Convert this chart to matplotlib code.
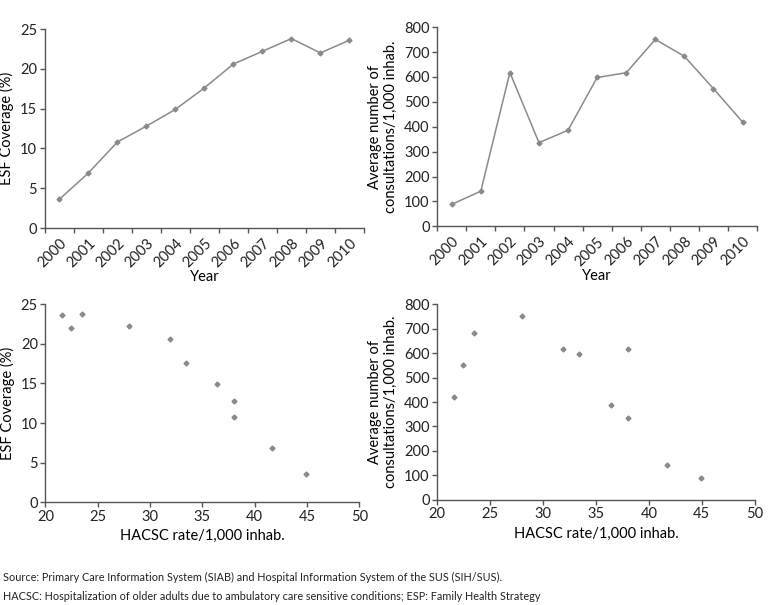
import matplotlib
matplotlib.use("Agg")
import matplotlib.pyplot as plt
import numpy as np

plt.rcParams["font.family"] = ["Lato", "DejaVu Sans"]

# ─── Données ─────────────────────────────────────────────────────────────────
years = ["2000", "2001", "2002", "2003", "2004", "2005",
         "2006", "2007", "2008", "2009", "2010"]
esf_coverage = [3.6, 6.9, 10.8, 12.8, 14.9, 17.6, 20.6, 22.2, 23.8, 22.0, 23.6]
consultations = [88, 141, 618, 336, 386, 598, 617, 751, 683, 553, 419]
hacsc_rate = [44.9, 41.7, 38.0, 38.0, 36.4, 33.4, 31.9, 28.0, 23.5, 22.4, 21.6]

GRAY = "#8a8a8a"
AXC = "#555555"
LFS = 10.5   # titres d'axes
TFS = 10.5   # graduations


def style_ax(ax):
    ax.spines[["top", "right"]].set_visible(False)
    for s in ("left", "bottom"):
        ax.spines[s].set_color(AXC)
        ax.spines[s].set_linewidth(1.0)
    ax.tick_params(colors=AXC, labelcolor="#222222", labelsize=TFS,
                   direction="out", length=3.5, width=1.0, pad=2)


def line_panel(ax, vals, ymax, ystep, ylabel):
    x = np.arange(len(years))
    ax.plot(x, vals, "-", color=GRAY, linewidth=1.1,
            marker="D", markersize=2.5, markerfacecolor=GRAY, markeredgecolor=GRAY)
    ax.set_xlim(-0.5, len(years) - 0.5)
    ax.set_ylim(0, ymax)
    ax.set_yticks(np.arange(0, ymax + 1, ystep))
    ax.set_xticks(x)
    ax.set_xticklabels(years, rotation=45, ha="right", rotation_mode="anchor")
    ax.set_xticks(np.arange(len(years) + 1) - 0.5, minor=True)
    style_ax(ax)
    ax.tick_params(axis="x", which="major", length=0, pad=6)
    ax.tick_params(axis="x", which="minor", length=3.5, width=1.0, color=AXC)
    ax.set_xlabel("Year", fontsize=LFS, labelpad=0)
    ax.set_ylabel(ylabel, fontsize=LFS, labelpad=4)


def scatter_panel(ax, yvals, ymax, ystep, ylabel):
    ax.plot(hacsc_rate, yvals, "D", color=GRAY, markersize=2.5, linestyle="none")
    ax.set_xlim(20, 50)
    ax.set_ylim(0, ymax)
    ax.set_xticks(np.arange(20, 51, 5))
    ax.set_yticks(np.arange(0, ymax + 1, ystep))
    style_ax(ax)
    ax.set_xlabel("HACSC rate/1,000 inhab.", fontsize=LFS, labelpad=4)
    ax.set_ylabel(ylabel, fontsize=LFS, labelpad=4)


fig = plt.figure(figsize=(7.71, 6.05), dpi=100, facecolor="white")

ax1 = fig.add_axes([0.058, 0.623, 0.414, 0.329])
ax2 = fig.add_axes([0.567, 0.626, 0.415, 0.329])
ax3 = fig.add_axes([0.059, 0.170, 0.407, 0.327])
ax4 = fig.add_axes([0.567, 0.174, 0.412, 0.323])

cons_label = "Average number of\nconsultations/1,000 inhab."

line_panel(ax1, esf_coverage, 25, 5, "ESF Coverage (%)")
line_panel(ax2, consultations, 800, 100, cons_label)
scatter_panel(ax3, esf_coverage, 25, 5, "ESF Coverage (%)")
scatter_panel(ax4, consultations, 800, 100, cons_label)

fig.text(0.004, 0.039, "Source: Primary Care Information System (SIAB) and Hospital "
         "Information System of the SUS (SIH/SUS).", fontsize=7.8, color="#222222")
fig.text(0.004, 0.008, "HACSC: Hospitalization of older adults due to ambulatory care "
         "sensitive conditions; ESP: Family Health Strategy", fontsize=7.8, color="#222222")

fig.savefig("out.png", dpi=100, facecolor="white")
